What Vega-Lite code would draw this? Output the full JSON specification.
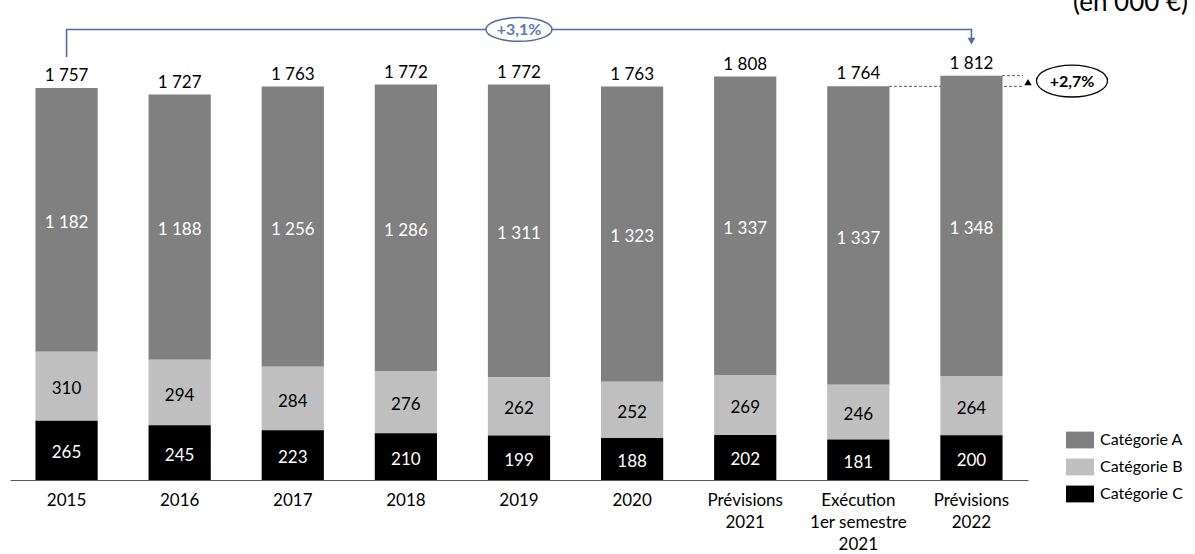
{
  "$schema": "https://vega.github.io/schema/vega-lite/v6.json",
  "autosize": {"type": "none"},
  "padding": {"left": 10, "top": 0, "right": 167, "bottom": 74},
  "width": 1018,
  "height": 480,
  "config": {
    "view": {"stroke": null},
    "font": "Lato"
  },
  "datasets": {
    "seg": [
      {"x": "2015", "cat": "Catégorie A", "v": 1182}, {"x": "2015", "cat": "Catégorie B", "v": 310}, {"x": "2015", "cat": "Catégorie C", "v": 265},
      {"x": "2016", "cat": "Catégorie A", "v": 1188}, {"x": "2016", "cat": "Catégorie B", "v": 294}, {"x": "2016", "cat": "Catégorie C", "v": 245},
      {"x": "2017", "cat": "Catégorie A", "v": 1256}, {"x": "2017", "cat": "Catégorie B", "v": 284}, {"x": "2017", "cat": "Catégorie C", "v": 223},
      {"x": "2018", "cat": "Catégorie A", "v": 1286}, {"x": "2018", "cat": "Catégorie B", "v": 276}, {"x": "2018", "cat": "Catégorie C", "v": 210},
      {"x": "2019", "cat": "Catégorie A", "v": 1311}, {"x": "2019", "cat": "Catégorie B", "v": 262}, {"x": "2019", "cat": "Catégorie C", "v": 199},
      {"x": "2020", "cat": "Catégorie A", "v": 1323}, {"x": "2020", "cat": "Catégorie B", "v": 252}, {"x": "2020", "cat": "Catégorie C", "v": 188},
      {"x": "Prévisions|2021", "cat": "Catégorie A", "v": 1337}, {"x": "Prévisions|2021", "cat": "Catégorie B", "v": 269}, {"x": "Prévisions|2021", "cat": "Catégorie C", "v": 202},
      {"x": "Exécution|1er semestre|2021", "cat": "Catégorie A", "v": 1337}, {"x": "Exécution|1er semestre|2021", "cat": "Catégorie B", "v": 246}, {"x": "Exécution|1er semestre|2021", "cat": "Catégorie C", "v": 181},
      {"x": "Prévisions|2022", "cat": "Catégorie A", "v": 1348}, {"x": "Prévisions|2022", "cat": "Catégorie B", "v": 264}, {"x": "Prévisions|2022", "cat": "Catégorie C", "v": 200}
    ],
    "tot": [
      {"x": "2015", "total": 1757}, {"x": "2016", "total": 1727}, {"x": "2017", "total": 1763},
      {"x": "2018", "total": 1772}, {"x": "2019", "total": 1772}, {"x": "2020", "total": 1763},
      {"x": "Prévisions|2021", "total": 1808}, {"x": "Exécution|1er semestre|2021", "total": 1764}, {"x": "Prévisions|2022", "total": 1812}
    ],
    "bracket": [
      {"x": "2015", "y": 1895, "o": 1},
      {"x": "2015", "y": 2019, "o": 2},
      {"x": "Prévisions|2022", "y": 2019, "o": 3},
      {"x": "Prévisions|2022", "y": 1980, "o": 4}
    ],
    "dashes": [
      {"xs": 7.771, "xe": 8.956, "y": 1764},
      {"xs": 8.770, "xe": 8.956, "y": 1812}
    ]
  },
  "resolve": {"scale": {"x": "independent"}},
  "layer": [
    {
      "layer": [
        {
          "data": {"name": "dashes"},
          "mark": {"type": "rule", "strokeDash": [3, 2], "color": "#595959", "strokeWidth": 1},
          "encoding": {
            "x": {"field": "xs", "type": "quantitative", "scale": {"domain": [0, 9], "nice": false, "zero": false}, "axis": null},
            "x2": {"field": "xe"},
            "y": {"field": "y", "type": "quantitative"}
          }
        },
        {
          "data": {"values": [{"xs": 9.0, "y": 1783}]},
          "mark": {"type": "point", "shape": "triangle-up", "filled": true, "size": 55, "color": "#000000", "opacity": 1},
          "encoding": {
            "x": {"field": "xs", "type": "quantitative"},
            "y": {"field": "y", "type": "quantitative"}
          }
        },
        {
          "data": {"values": [{"xs": 9.389, "y": 1788, "t": "+2,7%"}]},
          "mark": {"type": "point", "shape": "M-1,0A1,0.45 0 1,1 1,0A1,0.45 0 1,1 -1,0Z", "size": 5041, "filled": true, "fill": "#ffffff", "stroke": "#000000", "strokeWidth": 1.3, "opacity": 1},
          "encoding": {
            "x": {"field": "xs", "type": "quantitative"},
            "y": {"field": "y", "type": "quantitative"}
          }
        },
        {
          "data": {"values": [{"xs": 9.389, "y": 1788, "t": "+2,7%"}]},
          "mark": {"type": "text", "fontSize": 16, "fontWeight": "bold", "color": "#000000", "baseline": "middle", "dy": 1},
          "encoding": {
            "x": {"field": "xs", "type": "quantitative"},
            "y": {"field": "y", "type": "quantitative"},
            "text": {"field": "t", "type": "nominal"}
          }
        },
        {
          "data": {"values": [{"xs": 10.415, "y": 2102, "t": "(en 000 €)"}]},
          "mark": {"type": "text", "fontSize": 26, "color": "#000000", "align": "right", "baseline": "alphabetic"},
          "encoding": {
            "x": {"field": "xs", "type": "quantitative"},
            "y": {"field": "y", "type": "quantitative"},
            "text": {"field": "t", "type": "nominal"}
          }
        }
      ]
    },
    {
      "layer": [
        {
          "data": {"name": "seg"},
          "mark": {"type": "bar"},
          "encoding": {
            "x": {
              "field": "x", "type": "nominal", "sort": null, "title": null,
              "scale": {
                "domain": ["2015", "2016", "2017", "2018", "2019", "2020", "Prévisions|2021", "Exécution|1er semestre|2021", "Prévisions|2022"],
                "paddingInner": 0.45, "paddingOuter": 0.225
              },
              "axis": {
                "orient": "bottom",
                "labelExpr": "split(datum.label, '|')",
                "labelAngle": 0, "ticks": false, "labelPadding": 12,
                "labelFontSize": 17, "labelColor": "#000000", "labelLineHeight": 22,
                "labelBaseline": "top",
                "domainColor": "#595959", "domainWidth": 1.2
              }
            },
            "y": {
              "field": "v", "type": "quantitative", "stack": "zero",
              "scale": {"domain": [0, 2151], "nice": false, "zero": true},
              "axis": null
            },
            "color": {
              "field": "cat", "type": "nominal",
              "scale": {"domain": ["Catégorie A", "Catégorie B", "Catégorie C"], "range": ["#808080", "#bfbfbf", "#000000"]},
              "legend": {
                "title": null, "orient": "none", "legendX": 1056, "legendY": 426,
                "symbolType": "M-1,-0.6H1V0.6H-1Z", "symbolSize": 784, "symbolStrokeWidth": 0,
                "labelFontSize": 16, "labelColor": "#000000", "labelOffset": 6, "rowPadding": 4
              }
            },
            "order": {"field": "cat", "type": "nominal", "sort": "descending"}
          }
        },
        {
          "data": {"name": "seg"},
          "transform": [
            {"stack": "v", "groupby": ["x"], "sort": [{"field": "cat", "order": "descending"}], "as": ["v0", "v1"]},
            {"calculate": "(datum.v0 + datum.v1) / 2", "as": "mid"},
            {"calculate": "replace(format(datum.v, ',d'), ',', ' ')", "as": "lab"}
          ],
          "mark": {"type": "text", "fontSize": 17, "baseline": "middle", "dy": 3},
          "encoding": {
            "x": {"field": "x", "type": "nominal", "title": null},
            "y": {"field": "mid", "type": "quantitative"},
            "text": {"field": "lab", "type": "nominal"},
            "color": {"condition": {"test": "datum.cat === 'Catégorie B'", "value": "#000000"}, "value": "#ffffff"}
          }
        },
        {
          "data": {"name": "tot"},
          "transform": [
            {"calculate": "replace(format(datum.total, ',d'), ',', ' ')", "as": "lab"}
          ],
          "mark": {"type": "text", "fontSize": 17, "baseline": "bottom", "dy": -3, "color": "#000000"},
          "encoding": {
            "x": {"field": "x", "type": "nominal", "title": null},
            "y": {"field": "total", "type": "quantitative"},
            "text": {"field": "lab", "type": "nominal"}
          }
        },
        {
          "data": {"name": "bracket"},
          "mark": {"type": "line", "color": "#4e6e9f", "strokeWidth": 1.6},
          "encoding": {
            "x": {"field": "x", "type": "nominal", "title": null},
            "y": {"field": "y", "type": "quantitative"},
            "order": {"field": "o", "type": "quantitative"}
          }
        },
        {
          "data": {"values": [{"x": "Prévisions|2022", "y": 1967}]},
          "mark": {"type": "point", "shape": "triangle-down", "filled": true, "size": 60, "color": "#4e6e9f", "opacity": 1},
          "encoding": {
            "x": {"field": "x", "type": "nominal", "title": null},
            "y": {"field": "y", "type": "quantitative"}
          }
        },
        {
          "data": {"values": [{"x": "2019", "y": 2019, "t": "+3,1%"}]},
          "mark": {"type": "point", "shape": "M-1,0A1,0.36 0 1,1 1,0A1,0.36 0 1,1 -1,0Z", "size": 4356, "filled": true, "fill": "#ffffff", "stroke": "#4e6e9f", "strokeWidth": 1.5, "opacity": 1},
          "encoding": {
            "x": {"field": "x", "type": "nominal", "title": null},
            "y": {"field": "y", "type": "quantitative"}
          }
        },
        {
          "data": {"values": [{"x": "2019", "y": 2019, "t": "+3,1%"}]},
          "mark": {"type": "text", "fontSize": 16, "fontWeight": "bold", "color": "#5a7ab0", "baseline": "middle", "dy": 1},
          "encoding": {
            "x": {"field": "x", "type": "nominal", "title": null},
            "y": {"field": "y", "type": "quantitative"},
            "text": {"field": "t", "type": "nominal"}
          }
        }
      ]
    }
  ]
}
